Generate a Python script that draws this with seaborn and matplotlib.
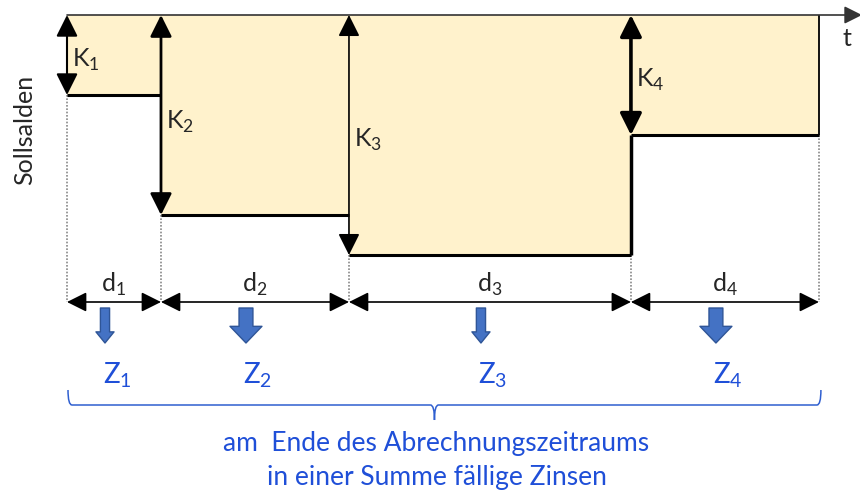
import numpy as np
import matplotlib
matplotlib.use("Agg")
import matplotlib.pyplot as plt
import seaborn as sns
from matplotlib.path import Path
from matplotlib.patches import PathPatch

# data: length of each accounting sub-period (days) and debit balance in it
durations = [30, 60, 90, 60]
balances = [2, 5, 6, 3]
k_labels = ["K$_{\\mathregular{1}}$", "K$_{\\mathregular{2}}$", "K$_{\\mathregular{3}}$", "K$_{\\mathregular{4}}$"]
d_labels = ["d$_{\\mathregular{1}}$", "d$_{\\mathregular{2}}$", "d$_{\\mathregular{3}}$", "d$_{\\mathregular{4}}$"]
z_labels = ["Z$_{\\mathregular{1}}$", "Z$_{\\mathregular{2}}$", "Z$_{\\mathregular{3}}$", "Z$_{\\mathregular{4}}$"]
caption = "am  Ende des Abrechnungszeitraums\nin einer Summe fällige Zinsen"

sns.set_theme(style="white")
plt.rcParams["font.family"] = ["Lato", "DejaVu Sans"]
plt.rcParams["mathtext.fontset"] = "custom"
plt.rcParams["mathtext.rm"] = "Lato"

W, H = 860, 500
x0_px, px_day = 67, 3.133
y0_px, px_unit = 15, 40.0

def py(p):
    # pixel row -> balance units (layout helper)
    return (p - y0_px) / px_unit

def pxd(p):
    # pixel width -> days
    return p / px_day

fig = plt.figure(figsize=(W / 100, H / 100), dpi=100)
ax = fig.add_axes([0, 0, 1, 1])
ax.set_xlim(-x0_px / px_day, (W - x0_px) / px_day)
ax.set_ylim(py(H), py(0))
ax.axis("off")

edges = np.concatenate([[0], np.cumsum(durations)])
bal_ext = balances + [balances[-1]]
mids = (edges[:-1] + edges[1:]) / 2

# shaded debit area
ax.fill_between(edges, 0, bal_ext, step="post", color="#FFF2CC", lw=0, zorder=1)
ax.hlines(balances, edges[:-1], edges[1:], color="black", lw=2.2, zorder=3)
ax.vlines(edges[-1], 0, balances[-1], color="black", lw=1.3, zorder=3)
for i in range(1, len(balances)):
    if balances[i] < balances[i - 1]:
        ax.vlines(edges[i], balances[i], balances[i - 1], color="black", lw=2.5, zorder=3)

# time axis on top
ax.annotate("", xy=(ax.get_xlim()[1] + pxd(2), 0), xytext=(0, 0), annotation_clip=False,
            arrowprops=dict(arrowstyle="-|>,head_length=0.6,head_width=0.3", mutation_scale=18,
                            color="#333333", lw=1.2, shrinkA=0, shrinkB=0), zorder=4)
ax.text(edges[-1] + pxd(28), py(38), "t", fontsize=18, ha="center", va="center")

# K arrows
k_lw = [1.5, 2.0, 1.2, 2.6]
for i, b in enumerate(balances):
    ax.annotate("", xy=(edges[i], b), xytext=(edges[i], 0),
                arrowprops=dict(arrowstyle="<|-|>,head_length=0.6,head_width=0.3", mutation_scale=22,
                                color="black", lw=k_lw[i], shrinkA=0, shrinkB=0), zorder=5)
k_ypx = [60, 122, 140, 80]
for i, lab in enumerate(k_labels):
    ax.text(edges[i] + pxd(5), py(k_ypx[i]), lab, fontsize=18, ha="left", va="center")

# dotted guides down to the duration arrows
d_row = py(302)
for i, x in enumerate(edges):
    top = max(bal_ext[max(i - 1, 0)], bal_ext[i])
    ax.vlines(x, top, d_row, color="#888888", lw=1.2, ls=(0, (1, 1)), zorder=2)

for i in range(len(durations)):
    ax.annotate("", xy=(edges[i + 1], d_row), xytext=(edges[i], d_row),
                arrowprops=dict(arrowstyle="<|-|>,head_length=0.6,head_width=0.3", mutation_scale=20,
                                color="black", lw=1.2, shrinkA=0, shrinkB=0), zorder=5)
    ax.text(mids[i], py(284), d_labels[i], fontsize=18, ha="center", va="center")

# interest payments
z_style = [(0.33, 0.65, 0.4), (0.5, 1.15, 0.6), (0.33, 0.65, 0.4), (0.5, 1.15, 0.6)]
for i, m in enumerate(mids):
    tw, hw, hl = z_style[i]
    ax.annotate("", xy=(m - pxd(9), py(343)), xytext=(m - pxd(9), py(308)),
                arrowprops=dict(arrowstyle=f"simple,head_length={hl},head_width={hw},tail_width={tw}",
                                mutation_scale=20, fc="#4472C4", ec="#2F5597", lw=1,
                                shrinkA=0, shrinkB=0), zorder=5)
    ax.text(m + pxd(3), py(375), z_labels[i], fontsize=20, color="#1F4FD8", ha="center", va="center")

# curly brace under the whole period
xl, xr = edges[0] + pxd(1), edges[-1] + pxd(2)
xm = (xl + xr) / 2 - pxd(10)
yt, yb, ytip = py(390), py(405), py(420)
c = pxd(4)
verts = [(xl, yt), (xl, yb), (xl + c, yb),
         (xm - c, yb), (xm, yb), (xm, ytip),
         (xm, yb), (xm + c, yb),
         (xr - c, yb), (xr, yb), (xr, yt)]
codes = [Path.MOVETO, Path.CURVE3, Path.CURVE3,
         Path.LINETO, Path.CURVE3, Path.CURVE3,
         Path.CURVE3, Path.CURVE3,
         Path.LINETO, Path.CURVE3, Path.CURVE3]
ax.add_patch(PathPatch(Path(verts, codes), fill=False, ec="#2F5FD0", lw=1.1))

ax.text(xm + pxd(2), py(461), caption, fontsize=19, color="#1F4FD8",
        ha="center", va="center", linespacing=1.45)

# y label in figure pixels
fig.text(25 / W, 1 - 130 / H, "Sollsalden", fontsize=18, rotation=90, ha="center", va="center")

fig.savefig("out.png", dpi=100)
